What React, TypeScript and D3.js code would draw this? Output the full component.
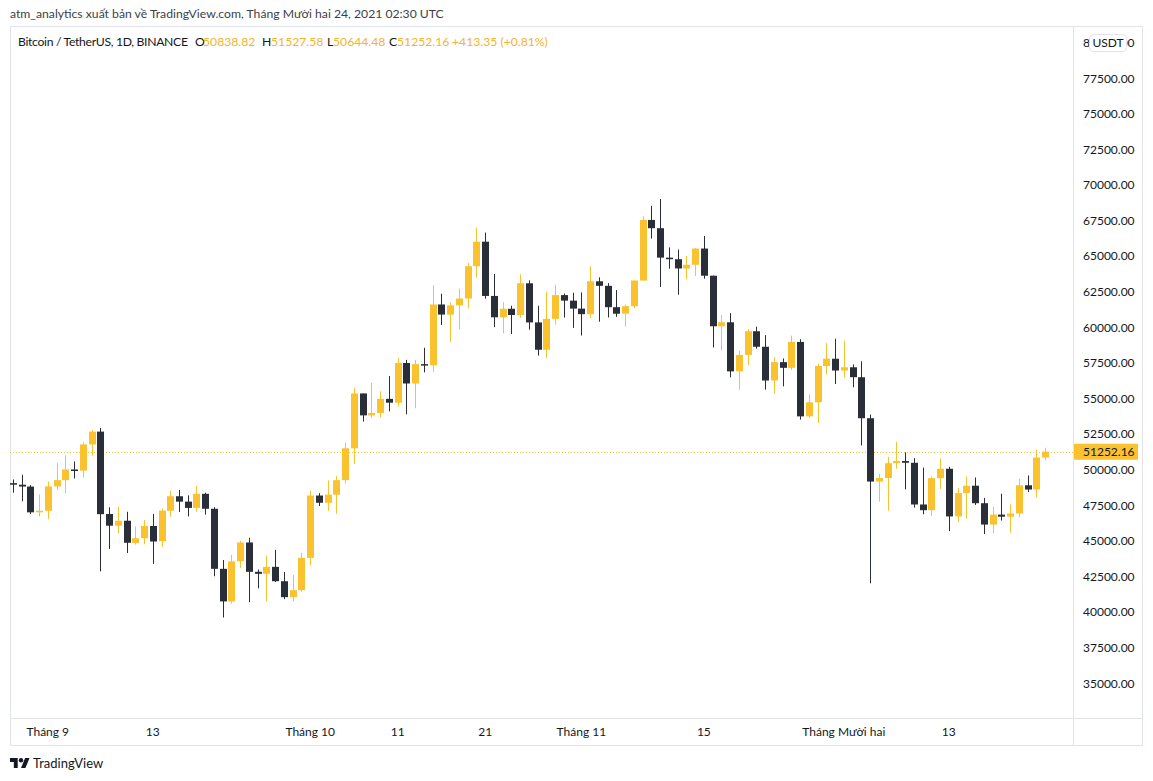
import React from 'react';
import * as d3 from 'd3';

// daily BTC/USDT candles, Aug 28 -> Dec 24 2021
const firstDay = new Date(Date.UTC(2021, 7, 28));
const lastDay = new Date(Date.UTC(2021, 11, 24));

const opens = [
  49040, 48930, 48800, 46990, 47100, 48810, 49250, 50000, 49920, 51760, 52660, 46870, 46050, 46400, 44840, 45170,
  46030, 44960, 47100, 48120, 47740, 47300, 48290, 47240, 43020, 40730, 43550, 44870, 42810, 42670, 43160, 42150,
  41030, 41520, 43790, 48170, 47660, 48230, 49250, 51490, 55340, 53800, 53970, 54960, 54690, 57480, 56040, 57400,
  57320, 61590, 60880, 61530, 62010, 64280, 66000, 62190, 60690, 61290, 60850, 63080, 60330, 58410, 60580, 62250,
  61860, 61300, 60910, 63220, 62900, 61400, 60940, 61470, 63270, 67530, 66950, 64880, 64770, 64120, 64380, 65520,
  63610, 60060, 60340, 56890, 58050, 59710, 58620, 56250, 57540, 57140, 58960, 53730, 54720, 57270, 57780, 56950,
  57180, 56480, 53600, 49150, 49400, 50440, 50590, 50470, 47540, 47140, 49390, 50050, 46700, 48340, 48860, 47630,
  46130, 46830, 46680, 46910, 48890, 48590, 50838.82,
];
const highs = [
  49300, 49630, 48900, 48250, 49160, 50450, 51000, 50560, 51900, 52780, 52920, 47340, 47400, 47030, 45990, 46460,
  46880, 47250, 48500, 48560, 48180, 48840, 48370, 47350, 43640, 44000, 44980, 45200, 42970, 43950, 44350, 42790,
  42590, 44130, 48500, 48340, 49230, 49540, 51890, 55750, 55340, 56100, 55490, 56560, 57840, 57700, 57700, 58550,
  62930, 62350, 61720, 62700, 64490, 67000, 66640, 63730, 61750, 61500, 63710, 63290, 61500, 62500, 62980, 62360,
  62410, 62440, 64270, 63500, 63090, 62600, 61560, 63290, 67790, 68520, 69000, 65600, 65450, 65000, 65550, 66400,
  63620, 60840, 60980, 58320, 59850, 60030, 59440, 57880, 57800, 59400, 59150, 55280, 57450, 58870, 59180, 59050,
  57380, 57600, 53860, 49700, 50890, 51940, 51200, 50800, 50130, 49490, 50780, 50190, 48700, 49500, 49440, 48000,
  47390, 48300, 47540, 49330, 49580, 51380, 51527.58,
];
const lows = [
  48370, 47760, 46860, 46700, 46510, 48580, 48320, 49370, 49450, 50970, 42840, 44410, 45510, 44130, 44720, 44740,
  43370, 44560, 46680, 47020, 46700, 47030, 46830, 42500, 39600, 40570, 43070, 40680, 41650, 40750, 42100, 40890,
  40750, 41410, 43280, 47430, 47090, 46890, 49020, 50380, 53360, 53620, 53660, 54080, 54420, 53880, 54300, 56820,
  56850, 60150, 58960, 59840, 61320, 63480, 62000, 60000, 59560, 59510, 60650, 59820, 58000, 57820, 60170, 60670,
  59950, 59410, 60620, 60380, 60680, 60720, 60050, 61320, 63270, 66220, 62820, 64100, 62280, 63360, 63580, 63400,
  58570, 58370, 56470, 55600, 57350, 58490, 55610, 55320, 55840, 57000, 53500, 53610, 53260, 56670, 56000, 56460,
  55780, 51680, 42000, 47730, 47100, 50040, 48600, 47320, 46850, 46750, 48640, 45670, 46290, 46550, 47510, 45460,
  45500, 46410, 45560, 46630, 48420, 48050, 50644.48,
];
const closes = [
  48930, 48800, 46990, 47100, 48810, 49250, 50000, 49920, 51760, 52660, 46860, 46050, 46400, 44850, 45170, 46030,
  44940, 47110, 48120, 47740, 47300, 48290, 47240, 43020, 40730, 43540, 44870, 42810, 42670, 43160, 42150, 41030,
  41520, 43790, 48170, 47660, 48230, 49250, 51490, 55340, 53800, 53970, 54960, 54690, 57480, 56040, 57400, 57320,
  61590, 60880, 61530, 62010, 64280, 66000, 62190, 60690, 61290, 60850, 63080, 60330, 58410, 60580, 62250, 61860,
  61300, 60910, 63220, 62900, 61400, 60940, 61470, 63270, 67530, 66950, 64880, 64770, 64120, 64380, 65520, 63610,
  60060, 60340, 56890, 58050, 59710, 58620, 56250, 57540, 57140, 58960, 53730, 54720, 57270, 57780, 56950, 57180,
  56480, 53600, 49150, 49400, 50440, 50590, 50470, 47540, 47140, 49390, 50050, 46700, 48340, 48860, 47630, 46130,
  46830, 46680, 46910, 48890, 48590, 50840, 51252.16,
];

const priceTicks = [35000, 37500, 40000, 42500, 45000, 47500, 50000, 52500, 55000, 57500, 60000, 62500, 65000, 67500, 70000, 72500, 75000, 77500, 80000];
const timeTicks = [
  new Date(Date.UTC(2021, 8, 1)), new Date(Date.UTC(2021, 8, 13)), new Date(Date.UTC(2021, 9, 1)),
  new Date(Date.UTC(2021, 9, 11)), new Date(Date.UTC(2021, 9, 21)), new Date(Date.UTC(2021, 10, 1)),
  new Date(Date.UTC(2021, 10, 15)), new Date(Date.UTC(2021, 11, 1)), new Date(Date.UTC(2021, 11, 13)),
];
const timeLabels = ['Tháng 9', '13', 'Tháng 10', '11', '21', 'Tháng 11', '15', 'Tháng Mười hai', '13'];

const lastPrice = 51252.16;
const legendKeys = ['O', 'H', 'L', 'C'];
const legendValues = ['50838.82', '51527.58', '50644.48', '51252.16'];
const legendChange = '+413.35 (+0.81%)';

const W = 1153, H = 781;
const plot = { left: 10, right: 1073, top: 26, bottom: 718 };
const axisRight = 1142, frameBottom = 745;

const UP = '#f9c22e';
const DOWN = '#2a2e39';
const BORDER = '#e0e3eb';
const TEXT = '#131722';
const VALUE = '#f5b32a';
const FONT = "Lato, 'Open Sans', sans-serif";

export default function App() {
  const days = d3.utcDay.range(firstDay, d3.utcDay.offset(lastDay, 1));
  const candles = days.map((d, i) => ({ date: d, o: opens[i], h: highs[i], l: lows[i], c: closes[i] }));

  const x = d3.scaleUtc().domain([firstDay, lastDay]).range([12.8, 1045]);
  const y = d3.scaleLinear().domain([35000, 77500]).range([683, 78]);
  const bodyW = 7;

  // legend x positions (key letter, value)
  const keyX = [195, 262, 327, 389];
  const valX = [203, 271, 333, 397];

  return (
    <svg width={W} height={H} style={{ position: 'absolute', left: 0, top: 0, background: '#fff' }} fontFamily={FONT}>
      <defs>
        <clipPath id="plotClip">
          <rect x={plot.left} y={plot.top} width={plot.right - plot.left} height={plot.bottom - plot.top} />
        </clipPath>
      </defs>
      <rect width={W} height={H} fill="#fff" />

      <text x={10} y={18} fontSize={12.2} fill="#3b3f48">
        atm_analytics xuất bản về TradingView.com, Tháng Mười hai 24, 2021 02:30 UTC
      </text>

      {/* frame */}
      <rect x={plot.left + 0.5} y={plot.top + 0.5} width={axisRight - plot.left} height={frameBottom - plot.top} fill="none" stroke={BORDER} />
      <line x1={plot.right + 0.5} x2={plot.right + 0.5} y1={plot.top} y2={frameBottom} stroke={BORDER} />
      <line x1={plot.left} x2={axisRight} y1={plot.bottom + 0.5} y2={plot.bottom + 0.5} stroke={BORDER} />

      {/* legend */}
      <text x={18} y={46} fontSize={12.2} fill={TEXT} letterSpacing={-0.32}>
        Bitcoin / TetherUS, 1D, BINANCE
      </text>
      <text y={46} fontSize={12.2} fill={TEXT}>
        {legendKeys.map((k, i) => (
          <React.Fragment key={k}>
            <tspan x={keyX[i]}>{k}</tspan>
            <tspan x={valX[i]} fill={VALUE}>{legendValues[i]}</tspan>
          </React.Fragment>
        ))}
        <tspan x={452} fill={VALUE}>{legendChange}</tspan>
      </text>

      {/* candles */}
      <g clipPath="url(#plotClip)">
        <line x1={plot.left} x2={plot.right} y1={Math.round(y(lastPrice)) + 0.5} y2={Math.round(y(lastPrice)) + 0.5}
          stroke={UP} strokeDasharray="1 2" />
        {candles.map((d, i) => {
          const cx = Math.round(x(d.date));
          const col = d.c >= d.o ? UP : DOWN;
          const top = y(Math.max(d.o, d.c));
          const bot = y(Math.min(d.o, d.c));
          return (
            <g key={i}>
              <line x1={cx + 0.5} x2={cx + 0.5} y1={y(d.h)} y2={y(d.l)} stroke={col} strokeWidth={1} />
              <rect x={cx + 0.5 - bodyW / 2} y={top} width={bodyW} height={Math.max(1.5, bot - top)} fill={col} />
            </g>
          );
        })}
      </g>

      {/* price axis */}
      {priceTicks.map(t => (
        <text key={t} x={1083} y={y(t) + 4.5} fontSize={12} fill={TEXT}>{t.toFixed(2)}</text>
      ))}
      <rect x={1089.5} y={34.5} width={37} height={17} rx={4} fill="#fff" stroke={BORDER} />
      <text x={1108} y={47} fontSize={12} fill={TEXT} textAnchor="middle">USDT</text>

      <rect x={plot.right + 1} y={y(lastPrice) - 8} width={64} height={16} rx={1} fill={UP} />
      <text x={1083} y={y(lastPrice) + 4.5} fontSize={12} fill={TEXT}>{lastPrice.toFixed(2)}</text>

      {/* time axis */}
      {timeTicks.map((t, i) => (
        <text key={i} x={x(t)} y={736} fontSize={12} fill={TEXT} textAnchor="middle">{timeLabels[i]}</text>
      ))}

      {/* TradingView mark */}
      <g transform="translate(10,757) scale(0.55)" fill={TEXT}>
        <path d="M14 20H7V9H0V2h14v18zM28 20h-8l7.5-18h8L28 20z" />
        <circle cx={20} cy={6} r={4} />
      </g>
      <text x={33} y={768} fontSize={13} fill={TEXT}>TradingView</text>
    </svg>
  );
}
